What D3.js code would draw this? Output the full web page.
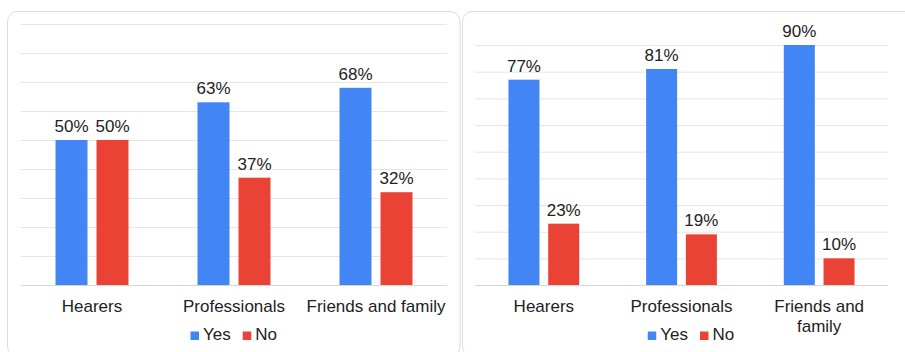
<!DOCTYPE html>
<html>
<head>
<meta charset="utf-8">
<script src="https://cdn.jsdelivr.net/npm/d3@7"></script>
<style>
  html, body { margin: 0; padding: 0; background: #fff; }
  svg { display: block; }
  text { font-family: "Liberation Sans", Arial, Helvetica, sans-serif; fill: #222; }
</style>
</head>
<body>
<svg id="chart" width="905" height="352"></svg>
<script>
// Survey answers per group, in percent
const categories = ["Hearers", "Professionals", "Friends and family"];
const seriesNames = ["Yes", "No"];
const seriesColors = ["#4285f4", "#ea4335"];

const leftYes = [50, 63, 68];
const leftNo = [50, 37, 32];
const rightYes = [77, 81, 90];
const rightNo = [23, 19, 10];

const gridTicks = [0, 10, 20, 30, 40, 50, 60, 70, 80, 90];

const svg = d3.select("#chart");
const FONT = 17;

// Panel layout: card box and plot area
const panels = [
  { card: [7.5, 11.5, 452.5, 345], plot: { left: 21, right: 447, top: 24, bottom: 285 }, yes: leftYes, no: leftNo },
  { card: [462.5, 11.5, 457, 345], plot: { left: 475, right: 888, top: 45, bottom: 285 }, yes: rightYes, no: rightNo }
];

function wrap(textSel, width) {
  textSel.each(function () {
    const text = d3.select(this);
    const words = text.text().split(/\s+/);
    const y = text.attr("y");
    const dy = parseFloat(text.attr("dy")) || 0;
    let line = [];
    let lineNumber = 0;
    let tspan = text.text(null).append("tspan").attr("x", 0).attr("y", y).attr("dy", dy + "em");
    words.forEach(word => {
      line.push(word);
      tspan.text(line.join(" "));
      if (tspan.node().getComputedTextLength() > width && line.length > 1) {
        line.pop();
        tspan.text(line.join(" "));
        line = [word];
        lineNumber++;
        tspan = text.append("tspan").attr("x", 0).attr("y", y)
          .attr("dy", (lineNumber * 1.15 + dy) + "em").text(word);
      }
    });
  });
}

panels.forEach(p => {
  const [cx, cy, cw, ch] = p.card;
  svg.append("rect")
    .attr("x", cx).attr("y", cy).attr("width", cw).attr("height", ch)
    .attr("rx", 10).attr("ry", 10)
    .attr("fill", "#fff").attr("stroke", "#dadce0").attr("stroke-width", 1);

  const { left, right, top, bottom } = p.plot;

  const y = d3.scaleLinear().domain([0, 90]).range([bottom, top]);
  const x0 = d3.scaleBand().domain(categories).range([left, right]).padding(0);
  const groupW = x0.bandwidth() * 0.514;
  const x1 = d3.scaleBand().domain(seriesNames).range([0, groupW]).paddingInner(0.22);

  // horizontal gridlines
  const grid = svg.append("g")
    .attr("transform", `translate(${left},0)`)
    .call(d3.axisLeft(y).tickValues(gridTicks).tickSize(-(right - left)).tickFormat(""));
  grid.select(".domain").remove();
  grid.selectAll(".tick line").attr("stroke", d => d === 0 ? "#d6d6d6" : "#e6e6e6").attr("stroke-width", 1);

  // bars
  const rows = categories.map((c, i) => ({ cat: c, values: [p.yes[i], p.no[i]] }));
  const groups = svg.append("g").selectAll("g")
    .data(rows).join("g")
    .attr("transform", d => `translate(${x0(d.cat) + (x0.bandwidth() - groupW) / 2},0)`);

  groups.selectAll("rect")
    .data(d => d.values.map((v, k) => ({ name: seriesNames[k], v, k })))
    .join("rect")
    .attr("x", d => x1(d.name))
    .attr("y", d => y(d.v))
    .attr("width", x1.bandwidth())
    .attr("height", d => y(0) - y(d.v))
    .attr("fill", d => seriesColors[d.k]);

  groups.selectAll("text.val")
    .data(d => d.values.map((v, k) => ({ name: seriesNames[k], v, k })))
    .join("text")
    .attr("class", "val")
    .attr("x", d => x1(d.name) + x1.bandwidth() / 2)
    .attr("y", d => y(d.v) - 8)
    .attr("text-anchor", "middle")
    .attr("font-size", FONT)
    .text(d => d.v + "%");

  // category axis
  const xAxis = svg.append("g")
    .attr("transform", `translate(0,${bottom})`)
    .call(d3.axisBottom(x0).tickSize(0).tickPadding(0));
  xAxis.select(".domain").remove();
  xAxis.selectAll(".tick text")
    .attr("y", 27).attr("dy", 0)
    .attr("font-size", FONT)
    .attr("font-family", '"Liberation Sans", Arial, sans-serif')
    .attr("fill", "#222")
    .call(wrap, x0.bandwidth());

  // legend, centred on the card
  const legend = svg.append("g");
  const sq = 8.5;
  let pos = 0;
  const items = seriesNames.map((name, k) => {
    const g = legend.append("g");
    g.append("rect").attr("x", 0).attr("y", -sq).attr("width", sq).attr("height", sq).attr("fill", seriesColors[k]);
    const t = g.append("text").attr("x", sq + 4).attr("y", 0).attr("font-size", FONT).text(name);
    const w = sq + 4 + t.node().getComputedTextLength();
    g.attr("transform", `translate(${pos},0)`);
    pos += w + 12;
    return w;
  });
  const totalW = pos - 12;
  legend.attr("transform", `translate(${cx + cw / 2 - totalW / 2},340)`);
});
</script>
</body>
</html>
